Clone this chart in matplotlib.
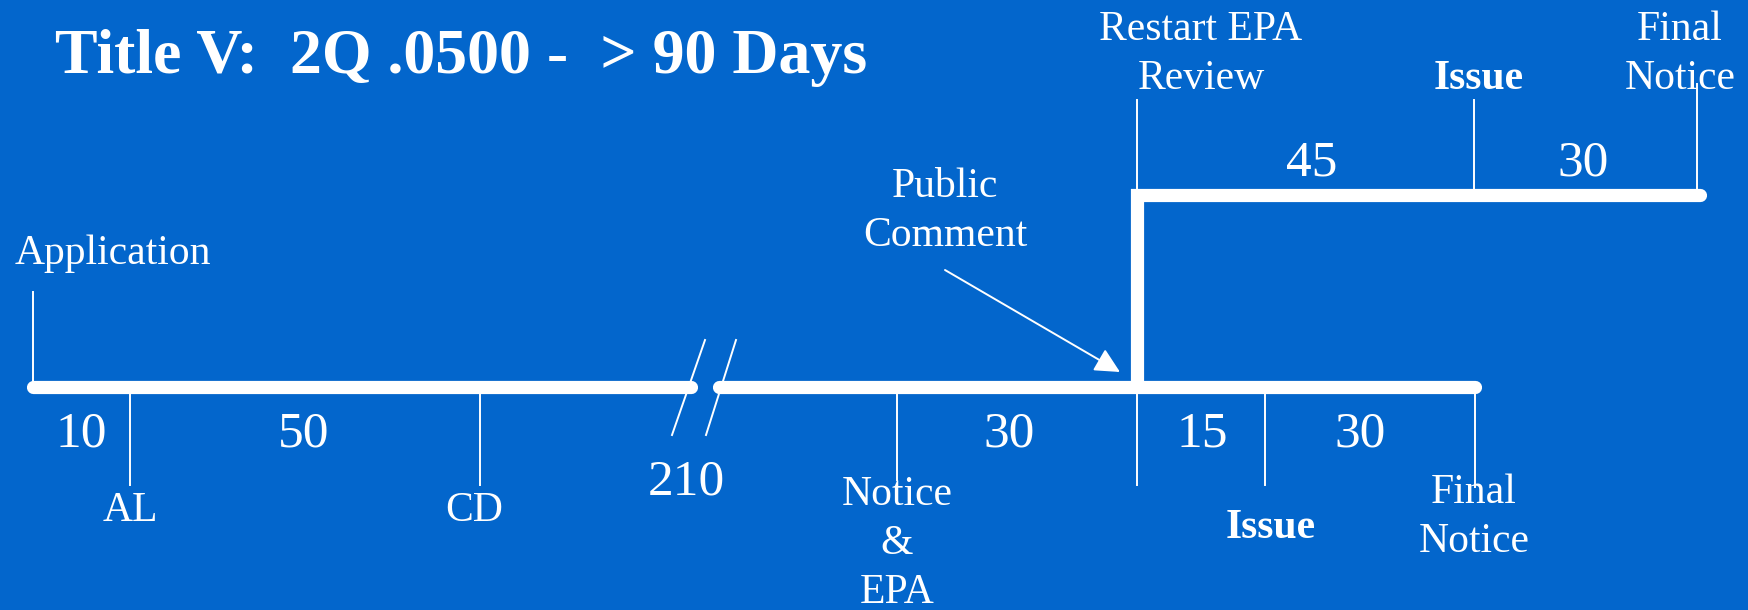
import matplotlib
matplotlib.use("Agg")
import matplotlib.pyplot as plt

# Timeline content
lower_events = ["Application", "AL", "CD", "Notice\n&\nEPA", "Issue", "Final\nNotice"]
lower_durations = ["10", "50", "210", "30", "15", "30"]
upper_events = ["Restart EPA\nReview", "Issue", "Final\nNotice"]
upper_durations = ["45", "30"]
comment_label = "Public\nComment"
title = "Title V:  2Q .0500 -  > 90 Days"

# Layout in pixel coordinates (y grows downwards)
BG = "#0366cc"
FG = "white"
Y_LOW, Y_UP = 387, 195
LOW_SEGS = [(33, 691), (719, 1475)]
X_STEP, X_UP_END = 1137, 1700

# tick x, y0, y1
LOW_TICKS = [(33, 292, 387), (130, 387, 485), (480, 387, 485),
             (897, 387, 480), (1265, 387, 485), (1475, 387, 487)]
LOW_LABEL_POS = [(113, 254), (130, 511), (474, 511), (897, 544), (1271, 528), (1474, 517)]
LOW_LABEL_BOLD = [False, False, False, False, True, False]
LOW_DUR_POS = [(81, 434), (304, 434), (686, 482), (1009, 434), (1202, 434), (1360, 434)]

UP_TICKS = [(X_STEP, 100, 195), (1474, 100, 195), (1697, 84, 195)]
UP_LABEL_POS = [(1201, 54), (1479, 79), (1680, 54)]
UP_LABEL_BOLD = [False, True, False]
UP_DUR_POS = [(1312, 163), (1583, 163)]

RESTART_LOW_TICK = (X_STEP, 387, 485)
BREAKS = [((705, 340), (672, 435)), ((736, 340), (706, 435))]

plt.rcParams["font.family"] = ["Liberation Serif", "DejaVu Serif"]

fig = plt.figure(figsize=(17.48, 6.10), dpi=100, facecolor=BG)
ax = fig.add_axes([0, 0, 1, 1])
ax.set_facecolor(BG)
ax.set_xlim(0, 1748)
ax.set_ylim(610, 0)
ax.axis("off")

THICK = 9.5
THIN = 1.4
LABEL = 30
NUM = 37
LSP = 1.35

# main timeline
for x0, x1 in LOW_SEGS:
    ax.plot([x0, x1], [Y_LOW, Y_LOW], color=FG, lw=THICK, solid_capstyle="round")
ax.plot([X_STEP, X_STEP, X_UP_END], [Y_LOW, Y_UP, Y_UP], color=FG, lw=THICK,
        solid_capstyle="round", solid_joinstyle="miter")

# break marks
for (xa, ya), (xb, yb) in BREAKS:
    ax.plot([xa, xb], [ya, yb], color=FG, lw=THIN)

# ticks
for x, y0, y1 in LOW_TICKS + UP_TICKS + [RESTART_LOW_TICK]:
    ax.plot([x, x], [y0, y1], color=FG, lw=THIN)

# labels
for txt, (x, y), bold in zip(lower_events, LOW_LABEL_POS, LOW_LABEL_BOLD):
    ax.text(x, y, txt, color=FG, fontsize=LABEL, ha="center", va="center",
            fontweight="bold" if bold else "normal", linespacing=LSP)
for txt, (x, y) in zip(lower_durations, LOW_DUR_POS):
    ax.text(x, y, txt, color=FG, fontsize=NUM, ha="center", va="center")
for txt, (x, y), bold in zip(upper_events, UP_LABEL_POS, UP_LABEL_BOLD):
    ax.text(x, y, txt, color=FG, fontsize=LABEL, ha="center", va="center",
            fontweight="bold" if bold else "normal", linespacing=LSP)
for txt, (x, y) in zip(upper_durations, UP_DUR_POS):
    ax.text(x, y, txt, color=FG, fontsize=NUM, ha="center", va="center")

# public comment arrow
ax.text(945, 211, comment_label, color=FG, fontsize=LABEL, ha="center", va="center",
        linespacing=LSP)
ax.annotate("", xy=(1120, 372), xytext=(945, 270),
            arrowprops=dict(arrowstyle="-|>", color=FG, lw=THIN, mutation_scale=38,
                            shrinkA=0, shrinkB=0))

ax.text(55, 58, title, color=FG, fontsize=46, fontweight="bold", ha="left", va="center")

fig.savefig("out.png", dpi=100, facecolor=BG)
